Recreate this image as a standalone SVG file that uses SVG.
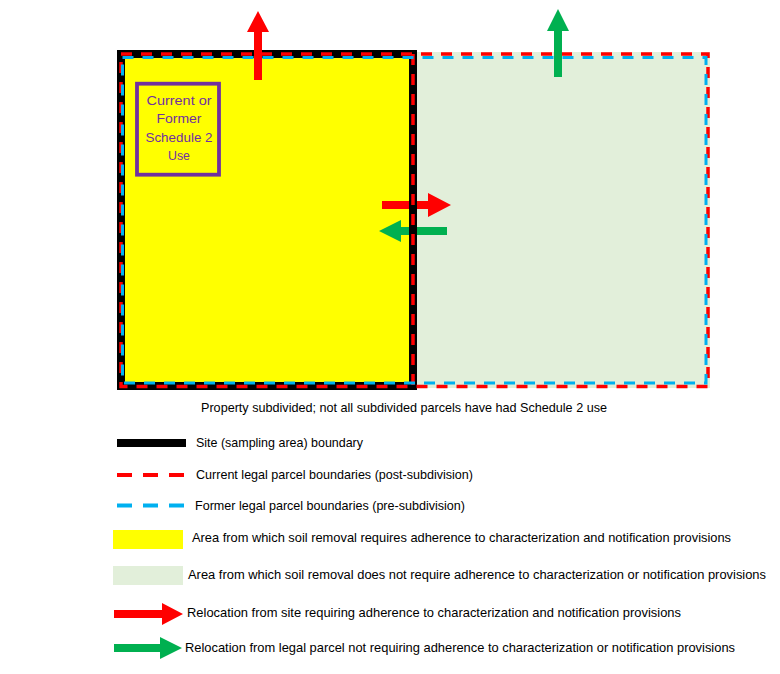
<svg xmlns="http://www.w3.org/2000/svg" width="780" height="674" viewBox="0 0 780 674">
<style>
text{font-family:"Liberation Sans",Arial,sans-serif;fill:#000;}
.lg{font-size:13px;}
.sm{font-size:12.3px;}
.pt{font-size:12.5px;fill:#7030A0;text-anchor:middle;}
.red-dash{fill:none;stroke:#FF0000;stroke-width:3.5;stroke-dasharray:11 9;}
.blue-dash{fill:none;stroke:#00B0F0;stroke-width:3;stroke-dasharray:11 9;}
.lg-red{fill:none;stroke:#FF0000;stroke-width:4;stroke-dasharray:15 11;}
.lg-blue{fill:none;stroke:#00B0F0;stroke-width:4;stroke-dasharray:15 11;}
.ra{fill:#FF0000;}
.ga{fill:#00B050;}
</style>
<rect width="780" height="674" fill="#FFFFFF"/>
<g id="parcel-areas">
<rect x="417" y="52" width="293" height="336" fill="#E2EFDA"/>
<rect x="121" y="54" width="292" height="332" fill="#FFFF00"/>
</g>
<g id="connectors">
<polygon class="ra" points="382,201 428,201 428,193 451,205 428,217 428,209 382,209"/>
<polygon class="ga" points="447,227 401,227 401,220 379,231 401,242 401,235 447,235"/>
</g>
<g id="site-boundary">
<rect x="121" y="54" width="292" height="332" fill="none" stroke="#000000" stroke-width="8"/>
</g>
<g id="current-parcels">
<rect class="red-dash" x="121" y="54" width="587" height="332.5"/>
<line class="red-dash" x1="413" y1="54" x2="413" y2="386.5"/>
</g>
<g id="connectors-vertical">
<polygon class="ra" points="254,80 254,32 247,32 258,11 269,32 262,32 262,80"/>
<polygon class="ga" points="554,77 554,31 547,31 558,9 569,31 562,31 562,77"/>
</g>
<g id="former-parcel">
<rect class="blue-dash" x="122.5" y="57.5" width="583.5" height="325.5"/>
</g>
<g id="schedule2-use">
<rect x="137" y="83.7" width="82" height="91" fill="none" stroke="#7030A0" stroke-width="3.8"/>
<text class="pt" x="179" y="104.5" textLength="65" lengthAdjust="spacingAndGlyphs">Current or</text>
<text class="pt" x="179" y="122.7" textLength="45" lengthAdjust="spacingAndGlyphs">Former</text>
<text class="pt" x="179" y="141.5" textLength="67" lengthAdjust="spacingAndGlyphs">Schedule 2</text>
<text class="pt" x="179" y="159.5" textLength="22" lengthAdjust="spacingAndGlyphs">Use</text>
</g>
<g id="caption">
<text class="lg" x="201" y="412" textLength="406" lengthAdjust="spacingAndGlyphs">Property subdivided;  not all subdivided  parcels  have had Schedule  2 use</text>
</g>
<g id="legend">
<line x1="117" y1="443" x2="186" y2="443" stroke="#000000" stroke-width="8"/>
<text class="lg" x="196" y="447.3" textLength="167" lengthAdjust="spacingAndGlyphs">Site (sampling  area) boundary</text>
<line class="lg-red" x1="117" y1="475" x2="186" y2="475"/>
<text class="lg" x="196" y="479.3" textLength="277" lengthAdjust="spacingAndGlyphs">Current legal parcel boundaries  (post-subdivision)</text>
<line class="lg-blue" x1="117" y1="505.5" x2="186" y2="505.5"/>
<text class="lg" x="195" y="510" textLength="270" lengthAdjust="spacingAndGlyphs">Former legal parcel boundaries (pre-subdivision)</text>
<rect x="113" y="530" width="70" height="19" fill="#FFFF00"/>
<text class="lg" x="192" y="541.5" textLength="539" lengthAdjust="spacingAndGlyphs">Area from which  soil removal  requires  adherence  to characterization  and notification provisions</text>
<rect x="113" y="566" width="70" height="19" fill="#E2EFDA"/>
<text class="sm" x="188" y="579" textLength="578" lengthAdjust="spacingAndGlyphs">Area from which  soil removal does not require  adherence  to characterization  or notification provisions</text>
<polygon class="ra" points="114,610 162,610 162,603 183,614 162,625 162,618 114,618"/>
<text class="lg" x="187" y="617.3" textLength="494" lengthAdjust="spacingAndGlyphs">Relocation from site requiring  adherence  to characterization  and notification provisions</text>
<polygon class="ga" points="114,644 160,644 160,637 182,648 160,659 160,652 114,652"/>
<text class="lg" x="185" y="652.3" textLength="550" lengthAdjust="spacingAndGlyphs">Relocation from legal parcel not requiring  adherence  to characterization  or notification provisions</text>
</g>
</svg>
